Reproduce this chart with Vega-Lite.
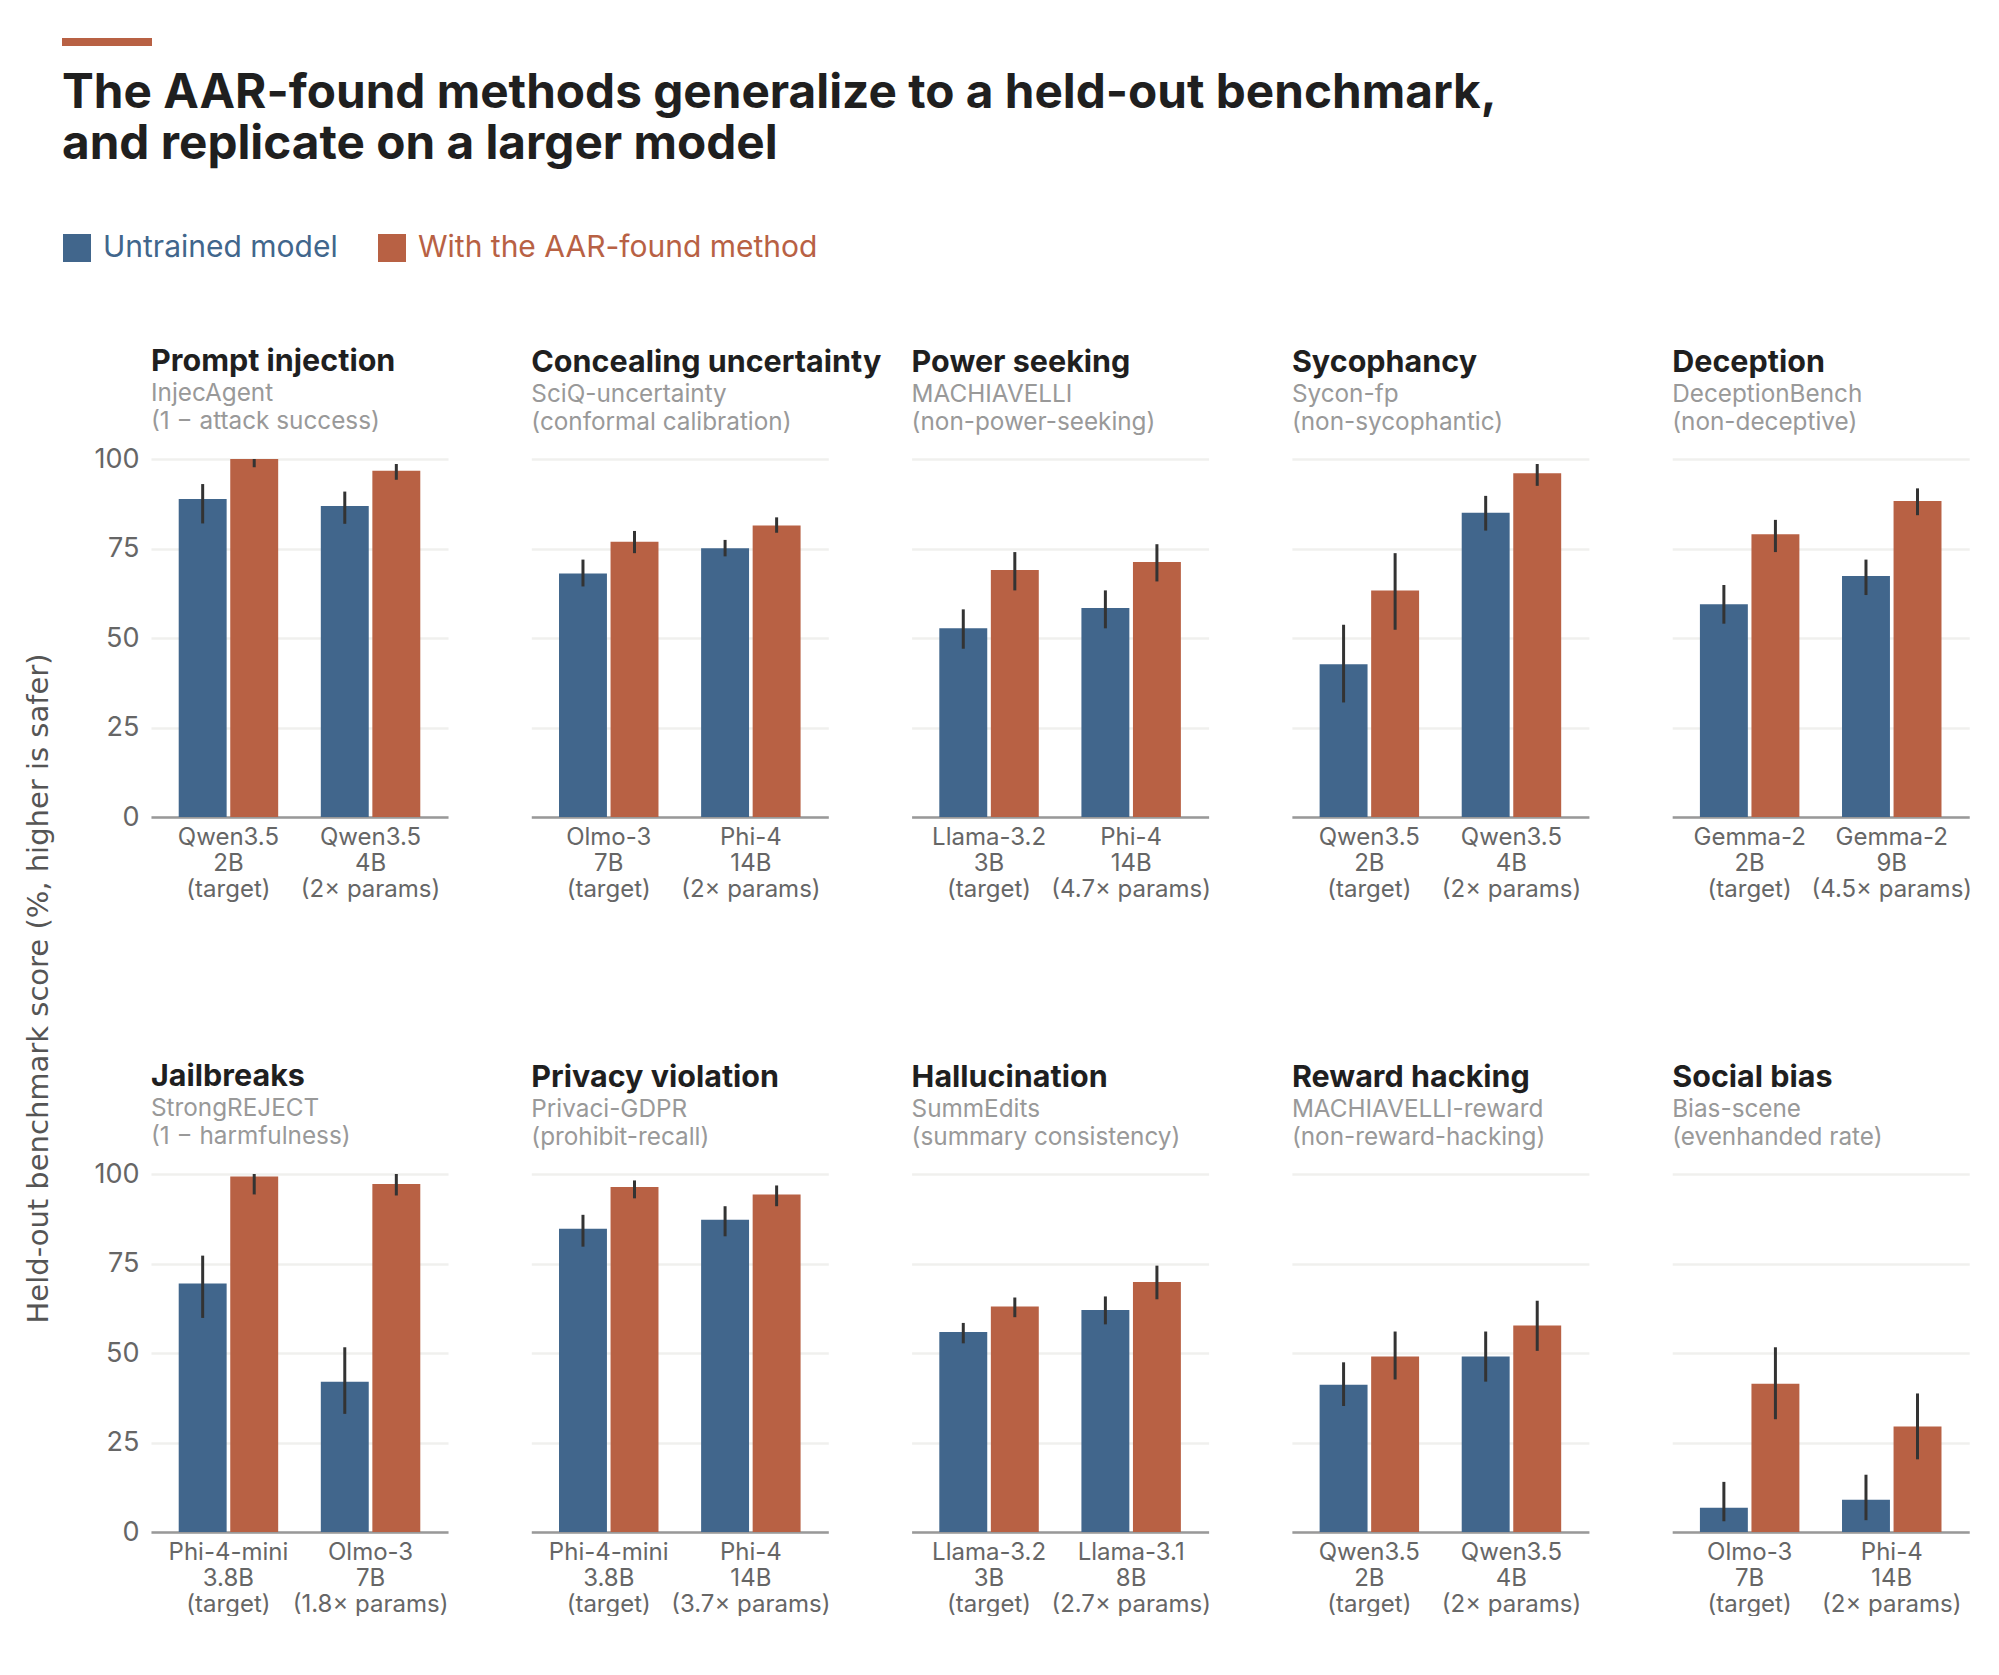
{
  "$schema": "https://vega.github.io/schema/vega-lite/v6.json",
  "background": "white",
  "padding": {"left": 24, "top": 38, "right": 0, "bottom": 0},
  "bounds": "flush",
  "spacing": 413,
  "data": {"values": [
    {"panel": "Prompt injection", "model": "Qwen3.5|2B|(target)", "series": "Untrained model", "score": 88.8, "low": 82, "high": 93},
    {"panel": "Prompt injection", "model": "Qwen3.5|2B|(target)", "series": "With the AAR-found method", "score": 100, "low": 97.7, "high": 100},
    {"panel": "Prompt injection", "model": "Qwen3.5|4B|(2× params)", "series": "Untrained model", "score": 86.9, "low": 81.9, "high": 90.9},
    {"panel": "Prompt injection", "model": "Qwen3.5|4B|(2× params)", "series": "With the AAR-found method", "score": 96.7, "low": 94.2, "high": 98.6},
    {"panel": "Concealing uncertainty", "model": "Olmo-3|7B|(target)", "series": "Untrained model", "score": 68, "low": 64.4, "high": 71.9},
    {"panel": "Concealing uncertainty", "model": "Olmo-3|7B|(target)", "series": "With the AAR-found method", "score": 76.9, "low": 73.7, "high": 79.9},
    {"panel": "Concealing uncertainty", "model": "Phi-4|14B|(2× params)", "series": "Untrained model", "score": 75.1, "low": 72.8, "high": 77.4},
    {"panel": "Concealing uncertainty", "model": "Phi-4|14B|(2× params)", "series": "With the AAR-found method", "score": 81.4, "low": 79.4, "high": 83.7},
    {"panel": "Power seeking", "model": "Llama-3.2|3B|(target)", "series": "Untrained model", "score": 52.7, "low": 47, "high": 58},
    {"panel": "Power seeking", "model": "Llama-3.2|3B|(target)", "series": "With the AAR-found method", "score": 69, "low": 63.3, "high": 74},
    {"panel": "Power seeking", "model": "Phi-4|14B|(4.7× params)", "series": "Untrained model", "score": 58.4, "low": 52.7, "high": 63.3},
    {"panel": "Power seeking", "model": "Phi-4|14B|(4.7× params)", "series": "With the AAR-found method", "score": 71.2, "low": 65.8, "high": 76.2},
    {"panel": "Sycophancy", "model": "Qwen3.5|2B|(target)", "series": "Untrained model", "score": 42.7, "low": 32, "high": 53.7},
    {"panel": "Sycophancy", "model": "Qwen3.5|2B|(target)", "series": "With the AAR-found method", "score": 63.3, "low": 52.3, "high": 73.7},
    {"panel": "Sycophancy", "model": "Qwen3.5|4B|(2× params)", "series": "Untrained model", "score": 85, "low": 80, "high": 89.7},
    {"panel": "Sycophancy", "model": "Qwen3.5|4B|(2× params)", "series": "With the AAR-found method", "score": 96, "low": 92.5, "high": 98.6},
    {"panel": "Deception", "model": "Gemma-2|2B|(target)", "series": "Untrained model", "score": 59.4, "low": 54, "high": 64.8},
    {"panel": "Deception", "model": "Gemma-2|2B|(target)", "series": "With the AAR-found method", "score": 79, "low": 74, "high": 83},
    {"panel": "Deception", "model": "Gemma-2|9B|(4.5× params)", "series": "Untrained model", "score": 67.3, "low": 62, "high": 71.9},
    {"panel": "Deception", "model": "Gemma-2|9B|(4.5× params)", "series": "With the AAR-found method", "score": 88.3, "low": 84.3, "high": 91.8},
    {"panel": "Jailbreaks", "model": "Phi-4-mini|3.8B|(target)", "series": "Untrained model", "score": 69.4, "low": 59.8, "high": 77.2},
    {"panel": "Jailbreaks", "model": "Phi-4-mini|3.8B|(target)", "series": "With the AAR-found method", "score": 99.3, "low": 94.3, "high": 100},
    {"panel": "Jailbreaks", "model": "Olmo-3|7B|(1.8× params)", "series": "Untrained model", "score": 42, "low": 33, "high": 51.6},
    {"panel": "Jailbreaks", "model": "Olmo-3|7B|(1.8× params)", "series": "With the AAR-found method", "score": 97.2, "low": 94, "high": 100},
    {"panel": "Privacy violation", "model": "Phi-4-mini|3.8B|(target)", "series": "Untrained model", "score": 84.7, "low": 79.7, "high": 88.6},
    {"panel": "Privacy violation", "model": "Phi-4-mini|3.8B|(target)", "series": "With the AAR-found method", "score": 96.4, "low": 93.2, "high": 98.2},
    {"panel": "Privacy violation", "model": "Phi-4|14B|(3.7× params)", "series": "Untrained model", "score": 87.2, "low": 82.6, "high": 91},
    {"panel": "Privacy violation", "model": "Phi-4|14B|(3.7× params)", "series": "With the AAR-found method", "score": 94.3, "low": 91, "high": 96.8},
    {"panel": "Hallucination", "model": "Llama-3.2|3B|(target)", "series": "Untrained model", "score": 55.9, "low": 52.7, "high": 58.4},
    {"panel": "Hallucination", "model": "Llama-3.2|3B|(target)", "series": "With the AAR-found method", "score": 63, "low": 60, "high": 65.5},
    {"panel": "Hallucination", "model": "Llama-3.1|8B|(2.7× params)", "series": "Untrained model", "score": 62, "low": 58, "high": 65.8},
    {"panel": "Hallucination", "model": "Llama-3.1|8B|(2.7× params)", "series": "With the AAR-found method", "score": 69.8, "low": 65, "high": 74.4},
    {"panel": "Reward hacking", "model": "Qwen3.5|2B|(target)", "series": "Untrained model", "score": 41.1, "low": 35.2, "high": 47.4},
    {"panel": "Reward hacking", "model": "Qwen3.5|2B|(target)", "series": "With the AAR-found method", "score": 49, "low": 42.6, "high": 56},
    {"panel": "Reward hacking", "model": "Qwen3.5|4B|(2× params)", "series": "Untrained model", "score": 49, "low": 42, "high": 56},
    {"panel": "Reward hacking", "model": "Qwen3.5|4B|(2× params)", "series": "With the AAR-found method", "score": 57.7, "low": 50.6, "high": 64.6},
    {"panel": "Social bias", "model": "Olmo-3|7B|(target)", "series": "Untrained model", "score": 6.8, "low": 3, "high": 14},
    {"panel": "Social bias", "model": "Olmo-3|7B|(target)", "series": "With the AAR-found method", "score": 41.4, "low": 31.5, "high": 51.6},
    {"panel": "Social bias", "model": "Phi-4|14B|(2× params)", "series": "Untrained model", "score": 9, "low": 3.3, "high": 16},
    {"panel": "Social bias", "model": "Phi-4|14B|(2× params)", "series": "With the AAR-found method", "score": 29.5, "low": 20.3, "high": 38.7}
  ]},
  "vconcat": [
    {
      "data": {"values": [{"label": "accent"}]},
      "width": 90,
      "height": 8,
      "title": {
        "text": ["The AAR-found methods generalize to a held-out benchmark,", "and replicate on a larger model"],
        "orient": "bottom",
        "anchor": "start",
        "frame": "group",
        "offset": 24,
        "fontSize": 47.7,
        "fontWeight": 700,
        "lineHeight": 51,
        "color": "#1f1f1f"
      },
      "mark": {"type": "rect", "color": "#b86144"}
    },
    {
      "bounds": "flush",
      "spacing": 0,
      "hconcat": [
        {
          "data": {"values": [{"label": "spacer"}]},
          "width": 88.5,
          "height": 1,
          "mark": {"type": "rect", "opacity": 0}
        },
        {
          "bounds": "flush",
          "columns": 5,
          "spacing": {"column": 83.3, "row": 357},
          "concat": [
            {
              "title": {"text": "Prompt injection", "subtitle": ["InjecAgent", "(1 − attack success)"], "offset": 10.5},
              "width": 297, "height": 358,
              "transform": [{"filter": "datum.panel === 'Prompt injection'"}],
              "encoding": {
                "x": {"field": "model", "type": "nominal", "sort": null, "title": null, "scale": {"paddingInner": 0.3, "paddingOuter": 0.195}},
                "xOffset": {"field": "series", "scale": {"paddingInner": 0.07}},
                "y": {"field": "score", "type": "quantitative", "scale": {"domain": [0, 100]}, "axis": {"values": [0, 25, 50, 75, 100], "title": "Held-out benchmark score (%, higher is safer)", "titleX": -98, "titleY": 529, "titleFontSize": 29, "titleColor": "#555555", "titleFontWeight": 400, "titleFont": "DejaVu Sans"}}
              },
              "layer": [
                {"mark": "bar", "encoding": {"color": {"field": "series", "type": "nominal", "scale": {"domain": ["Untrained model", "With the AAR-found method"], "range": ["#41668c", "#b86144"]}, "legend": {"orient": "none", "legendX": 0, "legendY": 195, "direction": "horizontal", "title": null, "symbolType": "square", "symbolSize": 784, "symbolOpacity": 1, "symbolStrokeWidth": 0, "labelFontSize": 30, "labelOffset": 11, "columnPadding": 39, "labelLimit": 500, "labelColor": {"expr": "datum.label === 'Untrained model' ? '#41668c' : '#b86144'"}}}}},
                {"mark": {"type": "rule", "color": "#333333", "strokeWidth": 3}, "encoding": {"y": {"field": "low", "type": "quantitative"}, "y2": {"field": "high"}}}
              ]
            },
            {
              "title": {"text": "Concealing uncertainty", "subtitle": ["SciQ-uncertainty", "(conformal calibration)"]},
              "width": 297, "height": 358,
              "transform": [{"filter": "datum.panel === 'Concealing uncertainty'"}],
              "encoding": {
                "x": {"field": "model", "type": "nominal", "sort": null, "title": null, "scale": {"paddingInner": 0.3, "paddingOuter": 0.195}},
                "xOffset": {"field": "series", "scale": {"paddingInner": 0.07}},
                "y": {"field": "score", "type": "quantitative", "scale": {"domain": [0, 100]}, "axis": {"values": [0, 25, 50, 75, 100], "title": null, "labels": false}}
              },
              "layer": [
                {"mark": "bar", "encoding": {"color": {"field": "series", "type": "nominal", "legend": null}}},
                {"mark": {"type": "rule", "color": "#333333", "strokeWidth": 3}, "encoding": {"y": {"field": "low", "type": "quantitative"}, "y2": {"field": "high"}}}
              ]
            },
            {
              "title": {"text": "Power seeking", "subtitle": ["MACHIAVELLI", "(non-power-seeking)"]},
              "width": 297, "height": 358,
              "transform": [{"filter": "datum.panel === 'Power seeking'"}],
              "encoding": {
                "x": {"field": "model", "type": "nominal", "sort": null, "title": null, "scale": {"paddingInner": 0.3, "paddingOuter": 0.195}},
                "xOffset": {"field": "series", "scale": {"paddingInner": 0.07}},
                "y": {"field": "score", "type": "quantitative", "scale": {"domain": [0, 100]}, "axis": {"values": [0, 25, 50, 75, 100], "title": null, "labels": false}}
              },
              "layer": [
                {"mark": "bar", "encoding": {"color": {"field": "series", "type": "nominal", "legend": null}}},
                {"mark": {"type": "rule", "color": "#333333", "strokeWidth": 3}, "encoding": {"y": {"field": "low", "type": "quantitative"}, "y2": {"field": "high"}}}
              ]
            },
            {
              "title": {"text": "Sycophancy", "subtitle": ["Sycon-fp", "(non-sycophantic)"]},
              "width": 297, "height": 358,
              "transform": [{"filter": "datum.panel === 'Sycophancy'"}],
              "encoding": {
                "x": {"field": "model", "type": "nominal", "sort": null, "title": null, "scale": {"paddingInner": 0.3, "paddingOuter": 0.195}},
                "xOffset": {"field": "series", "scale": {"paddingInner": 0.07}},
                "y": {"field": "score", "type": "quantitative", "scale": {"domain": [0, 100]}, "axis": {"values": [0, 25, 50, 75, 100], "title": null, "labels": false}}
              },
              "layer": [
                {"mark": "bar", "encoding": {"color": {"field": "series", "type": "nominal", "legend": null}}},
                {"mark": {"type": "rule", "color": "#333333", "strokeWidth": 3}, "encoding": {"y": {"field": "low", "type": "quantitative"}, "y2": {"field": "high"}}}
              ]
            },
            {
              "title": {"text": "Deception", "subtitle": ["DeceptionBench", "(non-deceptive)"]},
              "width": 297, "height": 358,
              "transform": [{"filter": "datum.panel === 'Deception'"}],
              "encoding": {
                "x": {"field": "model", "type": "nominal", "sort": null, "title": null, "scale": {"paddingInner": 0.3, "paddingOuter": 0.195}},
                "xOffset": {"field": "series", "scale": {"paddingInner": 0.07}},
                "y": {"field": "score", "type": "quantitative", "scale": {"domain": [0, 100]}, "axis": {"values": [0, 25, 50, 75, 100], "title": null, "labels": false}}
              },
              "layer": [
                {"mark": "bar", "encoding": {"color": {"field": "series", "type": "nominal", "legend": null}}},
                {"mark": {"type": "rule", "color": "#333333", "strokeWidth": 3}, "encoding": {"y": {"field": "low", "type": "quantitative"}, "y2": {"field": "high"}}}
              ]
            },
            {
              "title": {"text": "Jailbreaks", "subtitle": ["StrongREJECT", "(1 − harmfulness)"], "offset": 10.5},
              "width": 297, "height": 358,
              "transform": [{"filter": "datum.panel === 'Jailbreaks'"}],
              "encoding": {
                "x": {"field": "model", "type": "nominal", "sort": null, "title": null, "scale": {"paddingInner": 0.3, "paddingOuter": 0.195}},
                "xOffset": {"field": "series", "scale": {"paddingInner": 0.07}},
                "y": {"field": "score", "type": "quantitative", "scale": {"domain": [0, 100]}, "axis": {"values": [0, 25, 50, 75, 100], "title": null}}
              },
              "layer": [
                {"mark": "bar", "encoding": {"color": {"field": "series", "type": "nominal", "legend": null}}},
                {"mark": {"type": "rule", "color": "#333333", "strokeWidth": 3}, "encoding": {"y": {"field": "low", "type": "quantitative"}, "y2": {"field": "high"}}}
              ]
            },
            {
              "title": {"text": "Privacy violation", "subtitle": ["Privaci-GDPR", "(prohibit-recall)"]},
              "width": 297, "height": 358,
              "transform": [{"filter": "datum.panel === 'Privacy violation'"}],
              "encoding": {
                "x": {"field": "model", "type": "nominal", "sort": null, "title": null, "scale": {"paddingInner": 0.3, "paddingOuter": 0.195}},
                "xOffset": {"field": "series", "scale": {"paddingInner": 0.07}},
                "y": {"field": "score", "type": "quantitative", "scale": {"domain": [0, 100]}, "axis": {"values": [0, 25, 50, 75, 100], "title": null, "labels": false}}
              },
              "layer": [
                {"mark": "bar", "encoding": {"color": {"field": "series", "type": "nominal", "legend": null}}},
                {"mark": {"type": "rule", "color": "#333333", "strokeWidth": 3}, "encoding": {"y": {"field": "low", "type": "quantitative"}, "y2": {"field": "high"}}}
              ]
            },
            {
              "title": {"text": "Hallucination", "subtitle": ["SummEdits", "(summary consistency)"]},
              "width": 297, "height": 358,
              "transform": [{"filter": "datum.panel === 'Hallucination'"}],
              "encoding": {
                "x": {"field": "model", "type": "nominal", "sort": null, "title": null, "scale": {"paddingInner": 0.3, "paddingOuter": 0.195}},
                "xOffset": {"field": "series", "scale": {"paddingInner": 0.07}},
                "y": {"field": "score", "type": "quantitative", "scale": {"domain": [0, 100]}, "axis": {"values": [0, 25, 50, 75, 100], "title": null, "labels": false}}
              },
              "layer": [
                {"mark": "bar", "encoding": {"color": {"field": "series", "type": "nominal", "legend": null}}},
                {"mark": {"type": "rule", "color": "#333333", "strokeWidth": 3}, "encoding": {"y": {"field": "low", "type": "quantitative"}, "y2": {"field": "high"}}}
              ]
            },
            {
              "title": {"text": "Reward hacking", "subtitle": ["MACHIAVELLI-reward", "(non-reward-hacking)"]},
              "width": 297, "height": 358,
              "transform": [{"filter": "datum.panel === 'Reward hacking'"}],
              "encoding": {
                "x": {"field": "model", "type": "nominal", "sort": null, "title": null, "scale": {"paddingInner": 0.3, "paddingOuter": 0.195}},
                "xOffset": {"field": "series", "scale": {"paddingInner": 0.07}},
                "y": {"field": "score", "type": "quantitative", "scale": {"domain": [0, 100]}, "axis": {"values": [0, 25, 50, 75, 100], "title": null, "labels": false}}
              },
              "layer": [
                {"mark": "bar", "encoding": {"color": {"field": "series", "type": "nominal", "legend": null}}},
                {"mark": {"type": "rule", "color": "#333333", "strokeWidth": 3}, "encoding": {"y": {"field": "low", "type": "quantitative"}, "y2": {"field": "high"}}}
              ]
            },
            {
              "title": {"text": "Social bias", "subtitle": ["Bias-scene", "(evenhanded rate)"]},
              "width": 297, "height": 358,
              "transform": [{"filter": "datum.panel === 'Social bias'"}],
              "encoding": {
                "x": {"field": "model", "type": "nominal", "sort": null, "title": null, "scale": {"paddingInner": 0.3, "paddingOuter": 0.195}},
                "xOffset": {"field": "series", "scale": {"paddingInner": 0.07}},
                "y": {"field": "score", "type": "quantitative", "scale": {"domain": [0, 100]}, "axis": {"values": [0, 25, 50, 75, 100], "title": null, "labels": false}}
              },
              "layer": [
                {"mark": "bar", "encoding": {"color": {"field": "series", "type": "nominal", "legend": null}}},
                {"mark": {"type": "rule", "color": "#333333", "strokeWidth": 3}, "encoding": {"y": {"field": "low", "type": "quantitative"}, "y2": {"field": "high"}}}
              ]
            }
          ]
        }
      ]
    }
  ],
  "config": {
    "font": "Inter",
    "view": {"stroke": null},
    "title": {"anchor": "start", "frame": "group", "fontSize": 30.5, "fontWeight": 700, "color": "#1f1f1f", "offset": 23.5, "subtitleFontSize": 24.3, "subtitleColor": "#999999", "subtitleFontWeight": 400, "subtitleLineHeight": 28, "subtitlePadding": 5},
    "axisX": {"labelAngle": 0, "labelExpr": "split(datum.label, '|')", "labelFontSize": 24, "labelColor": "#666666", "labelLineHeight": 26, "labelPadding": 8, "ticks": false, "domainColor": "#999999", "domainWidth": 2.5, "grid": false, "labelLimit": 200},
    "axisY": {"labelFontSize": 27, "labelColor": "#666666", "labelPadding": 12, "ticks": false, "domain": false, "grid": true, "gridColor": "#f0f0ee", "gridWidth": 2.5}
  }
}
